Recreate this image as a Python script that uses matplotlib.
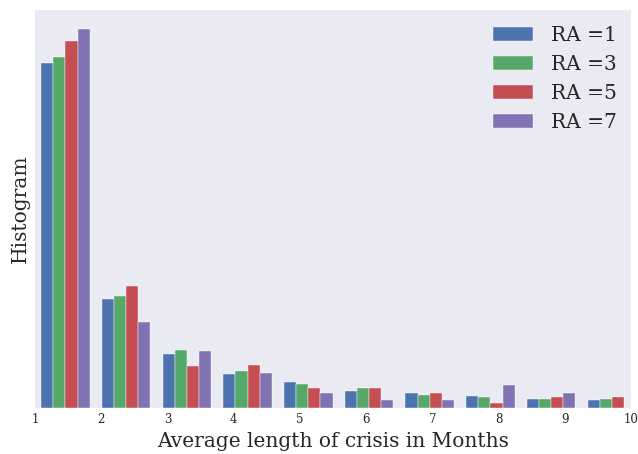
import numpy as np
import matplotlib
matplotlib.use("Agg")
import matplotlib.pyplot as plt

plt.style.use('seaborn-v0_8-darkgrid')
plt.rcParams['font.family'] = ['DejaVu Serif']

labels = ["RA =1", "RA =3", "RA =5", "RA =7"]
colors = ["#4C72B0", "#55A868", "#C44E52", "#8172B2"]

bin_start = 1.0
bin_width = 0.917
n_bins = 10

ra1 = [346, 109, 54.6, 34, 26.7, 17.3, 14.7, 12, 9.3, 8]
ra3 = [352, 112, 58.6, 37, 24, 20, 13.3, 10.7, 9.3, 9.3]
ra5 = [368, 122.6, 42.6, 43, 20, 20, 14.7, 5.3, 10.7, 10.7]
ra7 = [380, 86.6, 57.3, 35, 14.7, 8, 8, 22.7, 14.7, 0]

edges = bin_start + bin_width * np.arange(n_bins + 1)
centers = (edges[:-1] + edges[1:]) / 2

fig = plt.figure(figsize=(6.38, 4.54), dpi=100)
ax = fig.add_axes([0.055, 0.101, 0.934, 0.877])
ax.hist([centers] * 4, bins=edges, weights=[ra1, ra3, ra5, ra7],
        color=colors, label=labels, edgecolor='white', linewidth=0.3)
ax.set_xlim(1, 10)
ax.set_xticks(range(1, 11))
ax.tick_params(axis='x', labelsize=8.5)
ax.set_yticks([])
ax.grid(False)
ax.set_xlabel("Average length of crisis in Months", fontsize=14.5)
ax.set_ylabel("Histogram", fontsize=14.5)
ax.legend(loc='upper right', bbox_to_anchor=(1.0, 0.995), fontsize=14.5,
          frameon=False, labelspacing=0.5, handletextpad=0.9,
          borderaxespad=0.3)
fig.savefig("out.png", dpi=100)
